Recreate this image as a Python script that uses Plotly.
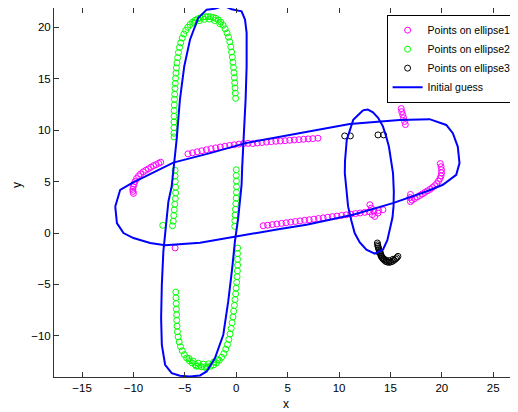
import plotly.graph_objects as go

# ---------------- data ----------------
# Points on ellipse1 (magenta)
e1_x = [-10.0, -10.05, -10.06, -10.02, -9.95, -9.85, -9.7, -9.5, -9.3, -9.05, -8.8, -8.55, -8.3, -8.05, -7.8, -7.55, -7.35,
        -4.7, -4.25, -3.8, -3.35, -2.9, -2.45, -2.0, -1.55, -1.1, -0.65, -0.2, 0.25, 0.7, 1.15, 1.6, 2.05, 2.5, 2.95, 3.4,
        3.85, 4.3, 4.75, 5.2, 5.65, 6.1, 6.55, 7.0, 7.45, 7.95,
        16.05, 16.1, 16.2, 16.28, 16.38, 16.45,
        19.85, 19.92, 19.97, 19.97, 19.92, 19.82, 19.68, 19.5, 19.3, 19.08, 18.85, 18.6, 18.35, 18.1, 17.85, 17.6, 17.35,
        17.1, 16.95, 16.9, 16.95,
        2.62, 3.05, 3.5, 3.95, 4.4, 4.85, 5.3, 5.75, 6.2, 6.65, 7.1, 7.55, 8.0, 8.45, 8.9, 9.35, 9.8, 10.25, 10.7, 11.15,
        11.6, 12.05, 12.5, 12.95, 13.4, 13.85, 14.27,
        13.0, 13.14, 13.24, 13.47, 13.79,
        -5.95]
e1_y = [3.85, 4.05, 4.25, 4.5, 4.75, 5.0, 5.3, 5.55, 5.75, 5.95, 6.1, 6.25, 6.4, 6.55, 6.65, 6.78, 6.88,
        7.7, 7.8, 7.9, 8.0, 8.1, 8.2, 8.28, 8.36, 8.44, 8.52, 8.58, 8.64, 8.7, 8.72, 8.7, 8.75, 8.8, 8.84, 8.88,
        8.92, 8.95, 8.98, 9.02, 9.05, 9.08, 9.12, 9.15, 9.18, 9.22,
        12.1, 11.8, 11.5, 11.2, 10.85, 10.55,
        6.75, 6.45, 6.15, 5.85, 5.55, 5.3, 5.05, 4.8, 4.6, 4.42, 4.25, 4.1, 3.95, 3.8, 3.65, 3.5, 3.35,
        3.2, 3.05, 3.45, 3.75,
        0.71, 0.76, 0.82, 0.88, 0.94, 1.0, 1.06, 1.12, 1.18, 1.24, 1.29, 1.35, 1.41, 1.47, 1.53, 1.59, 1.65, 1.71, 1.77, 1.83,
        1.89, 1.95, 2.01, 2.07, 2.13, 2.19, 2.26,
        2.75, 2.43, 1.78, 1.61, 1.94,
        -1.45]

# Points on ellipse2 (green)
e2_x = [-0.06, -0.09, -0.12, -0.15, -0.18, -0.22, -0.27, -0.32, -0.38, -0.45, -0.53, -0.63, -0.75, -0.9, -1.08, -1.28,
        -1.5, -1.75, -2.0, -2.25, -2.5, -2.75, -3.0, -3.25, -3.5, -3.75, -4.0, -4.25, -4.5, -4.72, -4.92, -5.1, -5.26,
        -5.4, -5.52, -5.62, -5.7, -5.77, -5.82, -5.86, -5.9, -5.93, -5.96, -5.99, -6.01, -6.03, -6.04, -6.05, -6.06,
        -6.06, -6.06, -6.05,
        -1.6, -2.1, -2.6, -3.1, -3.6, -4.1,
        -5.95, -5.95, -5.93, -5.9, -5.9, -5.93, -5.98, -6.03, -6.08, -6.13, -6.2, -7.15,
        -5.88, -5.86, -5.84, -5.82, -5.8, -5.79, -5.76, -5.72, -5.65, -5.55, -5.42, -5.25, -5.05, -4.82, -4.56, -4.28,
        -4.0, -3.7, -3.4, -3.1, -2.8, -2.5, -2.2, -1.92, -1.66, -1.42, -1.2, -1.02, -0.86, -0.72, -0.6, -0.49, -0.4,
        -0.32, -0.25, -0.18, -0.12, -0.06, -0.01, 0.04, 0.08, 0.11, 0.13, 0.13, 0.13, 0.13,
        -4.2, -3.7, -3.2, -2.7, -2.2, -3.9, -2.9, -4.6, -1.8,
        0.0, 0.0, 0.02, 0.03, 0.02, 0.0, -0.04, -0.08, -0.12, -0.14, -0.15]
e2_y = [13.1, 13.6, 14.1, 14.6, 15.1, 15.6, 16.1, 16.6, 17.1, 17.6, 18.1, 18.6, 19.05, 19.45, 19.85, 20.2,
        20.5, 20.72, 20.88, 20.97, 21.02, 21.04, 21.03, 20.99, 20.92, 20.82, 20.68, 20.5, 20.27, 20.0, 19.7, 19.35, 18.95,
        18.5, 18.05, 17.55, 17.05, 16.55, 16.05, 15.55, 15.05, 14.55, 14.05, 13.5, 13.0, 12.45, 11.9, 11.35, 10.8,
        10.25, 9.7, 9.35,
        20.35, 20.65, 20.8, 20.78, 20.65, 20.4,
        6.1, 5.55, 5.0, 4.45, 3.9, 3.35, 2.8, 2.25, 1.7, 1.15, 0.7, 0.75,
        -5.75, -6.3, -6.85, -7.4, -7.95, -8.5, -9.05, -9.6, -10.1, -10.6, -11.05, -11.45, -11.82, -12.15, -12.42, -12.64,
        -12.8, -12.93, -13.0, -13.04, -13.02, -12.95, -12.82, -12.63, -12.38, -12.08, -11.72, -11.3, -10.85, -10.35,
        -9.82, -9.28, -8.72, -8.16, -7.6, -7.04, -6.48, -5.92, -5.36, -4.8, -4.24, -3.68, -3.12, -2.56, -2.0, -1.46,
        -12.45, -12.65, -12.75, -12.72, -12.55, -12.95, -13.1, -12.2, -12.3,
        6.15, 5.6, 5.05, 4.5, 3.95, 3.4, 2.85, 2.3, 1.75, 1.2, 0.65]

# Points on ellipse3 (black)
e3_x = [10.55, 11.1, 13.79, 14.34,
        13.73, 13.76, 13.79, 13.83, 13.88, 13.95, 14.02, 14.07, 14.12, 14.2, 14.27, 14.4, 14.53, 14.7, 14.86, 15.02,
        15.18, 15.35, 15.5, 15.62, 15.73, 13.9, 14.1, 14.35, 14.6, 14.9, 15.25]
e3_y = [9.44, 9.44, 9.54, 9.54,
        -0.97, -1.15, -1.3, -1.45, -1.62, -1.78, -1.94, -2.1, -2.27, -2.4, -2.5, -2.63, -2.76, -2.82, -2.85, -2.82,
        -2.76, -2.65, -2.52, -2.4, -2.27, -1.9, -2.25, -2.5, -2.65, -2.68, -2.55]

# Initial guess ellipses (blue), vertices
g1_x = [-11.77, -11.61, -10.97, -10.0, -8.38, -6.92, -3.52, 0.04, 4.24, 6.83, 11.36, 15.24, 18.49, 20.1, 21.4, 21.72,
        21.55, 21.07, 20.43, 18.8, 15.89, 11.04, 4.24, 0.91, -2.55, -6.12, -10.16, -11.29, -11.77]
g1_y = [2.58, 0.97, 0.0, -0.49, -0.97, -1.18, -0.94, -0.31, 0.39, 0.81, 1.78, 2.91, 4.04, 4.69, 5.66, 6.8,
        8.41, 9.71, 10.51, 11.07, 11.0, 10.61, 9.32, 8.74, 7.77, 6.85, 4.85, 4.2, 2.58]

g2_x = [-2.1, -2.88, -3.7, -4.5, -5.06, -5.48, -5.8, -6.28, -6.6, -6.86, -7.09, -7.24, -7.31, -7.24, -6.92, -6.28,
        -5.48, -4.5, -3.52, -2.88, -2.07, -1.26, -0.78, -0.39, -0.13, 0.19, 0.52, 0.58, 0.78, 0.91, 1.01, 1.01, 0.85,
        0.52, -0.45, -1.2, -2.1]
g2_y = [21.8, 21.72, 20.91, 18.8, 16.2, 12.97, 9.08, 4.54, 3.07, 0.81, -1.79, -5.02, -8.27, -10.87, -12.81, -13.62,
        -13.88, -13.95, -13.85, -13.46, -12.16, -9.89, -6.65, -3.4, -0.82, 1.46, 4.7, 6.48, 9.73, 12.97, 16.21, 19.46, 20.75,
        21.56, 21.75, 22.1, 21.8]

g3_x = [12.34, 11.38, 10.75, 10.58, 10.56, 10.7, 10.88, 11.2, 11.52, 12.0, 12.66, 13.47, 14.27, 14.7, 14.95, 15.2,
        15.3, 15.33, 15.25, 15.05, 14.85, 14.55, 14.27, 13.8, 13.3, 12.8, 12.34]
g3_y = [11.93, 11.0, 9.06, 7.0, 5.83, 4.0, 2.59, 1.2, 0.0, -0.9, -1.62, -2.0, -1.62, -0.7, 0.32, 1.5,
        2.59, 4.0, 5.83, 7.2, 8.41, 9.5, 10.37, 11.2, 11.74, 12.0, 11.93]

x_ticks = [-15, -10, -5, 0, 5, 10, 15, 20, 25]
y_ticks = [-10, -5, 0, 5, 10, 15, 20]
x_range = [-17.73, 27.41]
y_range = [-14.0, 21.88]

series_names = ["Points on ellipse1", "Points on ellipse2", "Points on ellipse3", "Initial guess"]
series_colors = ["#FF00FF", "#00FF00", "#000000", "#0000FF"]

# ---------------- figure ----------------
fig = go.Figure()
for xs, ys, name, col in [(e1_x, e1_y, series_names[0], series_colors[0]),
                          (e2_x, e2_y, series_names[1], series_colors[1]),
                          (e3_x, e3_y, series_names[2], series_colors[2])]:
    fig.add_trace(go.Scatter(x=xs, y=ys, mode="markers", name=name,
                             marker=dict(symbol="circle-open", size=6, color=col, line=dict(width=1, color=col))))

gx = g1_x + [None] + g2_x + [None] + g3_x
gy = g1_y + [None] + g2_y + [None] + g3_y
fig.add_trace(go.Scatter(x=gx, y=gy, mode="lines", name=series_names[3],
                         line=dict(color=series_colors[3], width=2), connectgaps=False))

axis_common = dict(showgrid=False, zeroline=False, showline=True, linecolor="#333333", linewidth=1,
                   ticks="inside", ticklen=5, tickcolor="#333333", automargin=False,
                   tickfont=dict(family="Liberation Sans, Arial, sans-serif", size=11.5, color="#000000"))

# The page body has an 8px default margin, so the figure is 8px smaller than the window.
fig.update_layout(
    width=510, height=404,
    margin=dict(l=46, r=0, t=0, b=35),
    paper_bgcolor="white", plot_bgcolor="white",
    font=dict(family="Liberation Sans, Arial, sans-serif", color="#000000"),
    xaxis=dict(range=x_range, tickvals=x_ticks, mirror="ticks", **axis_common),
    yaxis=dict(range=y_range, tickvals=y_ticks, mirror=False, **axis_common),
    showlegend=True,
    legend=dict(x=0.997, y=0.982, xanchor="right", yanchor="top", bgcolor="white",
                bordercolor="#000000", borderwidth=1,
                font=dict(family="Liberation Sans, Arial, sans-serif", size=10.5, color="#000000"),
                tracegroupgap=0),
    annotations=[
        dict(text="x", xref="paper", yref="paper", x=(286 - 54) / 464, y=0, yshift=-18,
             showarrow=False, font=dict(size=12), xanchor="center", yanchor="top"),
        dict(text="y", xref="paper", yref="paper", x=0, xshift=-37, y=1 - (185 - 8) / 369,
             showarrow=False, font=dict(size=12), textangle=-90, xanchor="center", yanchor="middle"),
    ],
)

fig.write_html("out.html")
